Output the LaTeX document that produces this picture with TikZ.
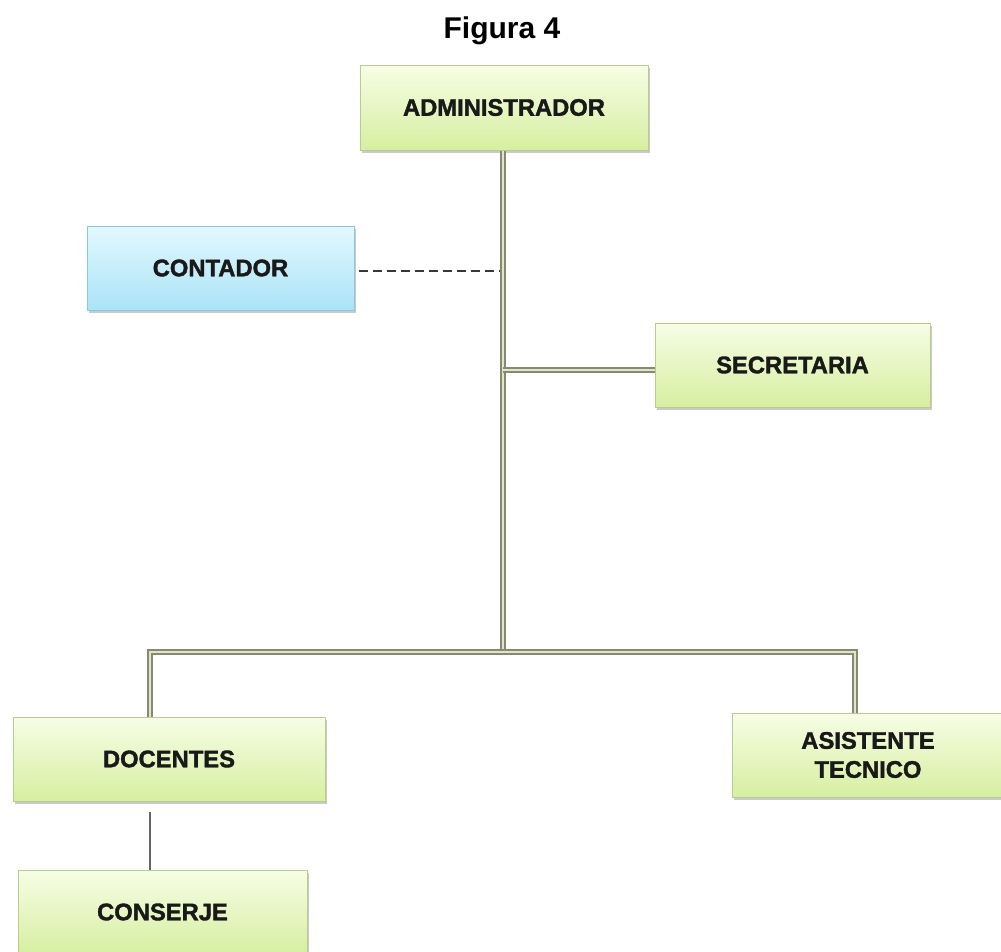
\documentclass[tikz,border=0pt]{standalone}
\usepackage{fontspec}
\setmainfont{Liberation Sans}
\newfontfamily\boxfont[FakeStretch=0.99, FakeBold=1.6]{Liberation Sans}
\usetikzlibrary{shadows}
\definecolor{gtop}{HTML}{F7FDE6}
\definecolor{gbot}{HTML}{D6EFA0}
\definecolor{gedge}{HTML}{B9CC8E}
\definecolor{btop}{HTML}{E4F8FE}
\definecolor{bbot}{HTML}{A9E4F7}
\definecolor{bedge}{HTML}{8FC7DA}
\definecolor{linec}{HTML}{878A6E}
\definecolor{linein}{HTML}{E2E4D2}
\tikzset{
  orgbox/.style={rectangle, draw=gedge, line width=1pt, top color=gtop, bottom color=gbot,
    drop shadow={shadow xshift=2pt, shadow yshift=-3pt, opacity=0.35, fill=black!60},
    font=\boxfont\bfseries\fontsize{24}{27}\selectfont, text=black!90, align=center, inner sep=0pt},
  bluebox/.style={orgbox, draw=bedge, top color=btop, bottom color=bbot},
  trunk/.style={draw=linec, line width=2pt, double=linein, double distance=1.2pt},
  dashline/.style={draw=black!78, line width=2.6pt, dash pattern=on 9pt off 5pt},
  thinline/.style={draw=black!60, line width=1.4pt}
}
\begin{document}
\begin{tikzpicture}[x=1pt,y=-1pt]
\useasboundingbox (0,0) rectangle (1001,951);
\node[font=\bfseries\fontsize{30}{34}\selectfont] (title) at (502,31) {Figura 4};
\node[orgbox, minimum width=288pt, minimum height=85pt] (adm) at (504,107.5) {ADMINISTRADOR};
\node[bluebox, minimum width=267pt, minimum height=84pt] (cont) at (220.5,268) {CONTADOR};
\node[orgbox, minimum width=275pt, minimum height=84pt] (sec) at (792.5,365) {SECRETARIA};
\node[orgbox, minimum width=312pt, minimum height=84pt] (doc) at (169,759) {DOCENTES};
\node[orgbox, minimum width=272pt, minimum height=84pt] (asi) at (868,755) {ASISTENTE\\[2pt]TECNICO};
\node[orgbox, minimum width=289pt, minimum height=84pt] (con) at (162.5,912) {CONSERJE};
\coordinate (j1) at (503,271);
\coordinate (j2) at (503,370);
\coordinate (j3) at (503,652);
\coordinate (l1) at (150,652);
\coordinate (r1) at (855,652);
\draw[dashline] (cont.east |- j1) ++(4,0) -- (j1);
\draw[trunk] (adm.south -| j1) -- (j3);
\draw[trunk] (j2) -- (sec.west |- j2);
\draw[trunk] (l1 |- doc.north) -- (l1) -- (r1) -- (r1 |- asi.north);
\draw[thinline] (doc.south -| l1) ++(0,10) -- (con.north -| l1);
\end{tikzpicture}
\end{document}
